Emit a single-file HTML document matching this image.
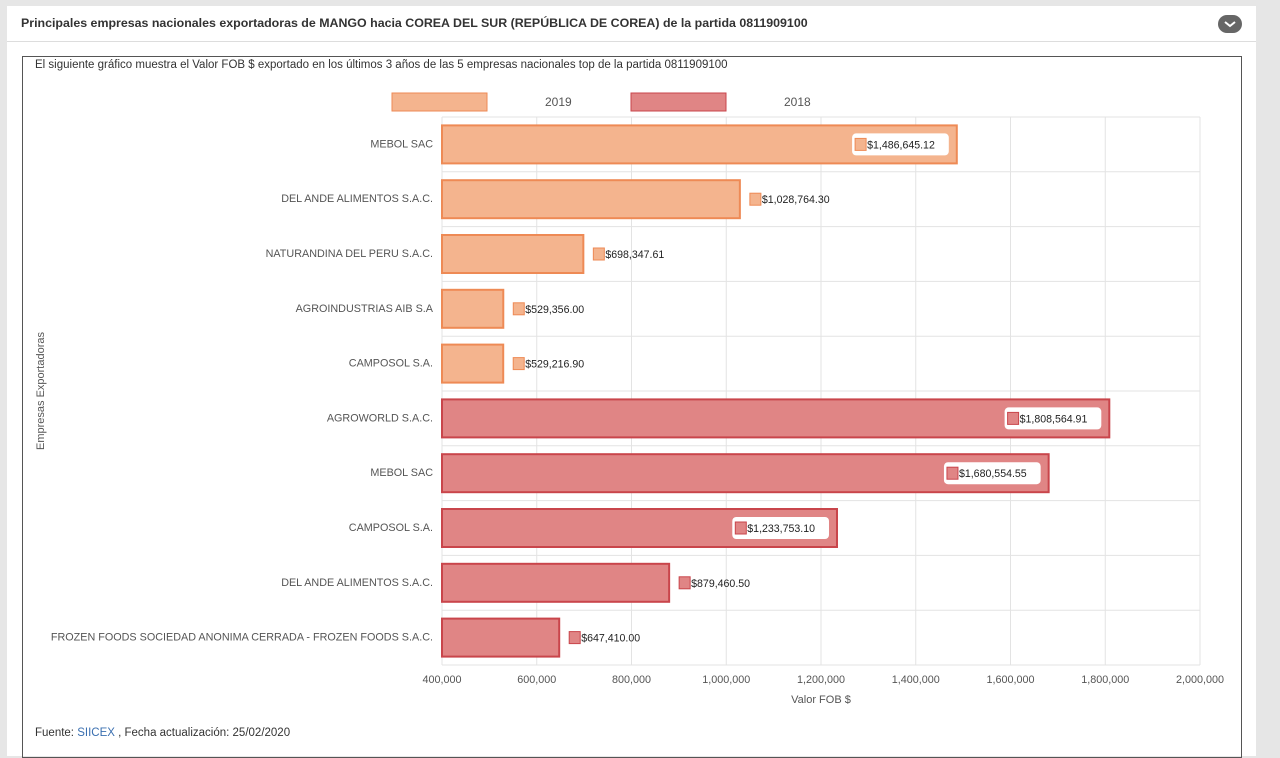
<!DOCTYPE html>
<html><head><meta charset="utf-8"><style>
body{margin:0;width:1280px;height:750px;background:#e6e6e6;font-family:"Liberation Sans",sans-serif;overflow:hidden;position:relative}
#panel{position:absolute;left:7px;top:6px;width:1249px;height:750px;background:#fff}
#title{position:absolute;left:21px;top:16px;font-size:12.4px;font-weight:bold;color:#333}
#toggle{position:absolute;left:1218px;top:15px;width:24px;height:18px;border-radius:9px;background:#666}
#divider{position:absolute;left:7px;top:41px;width:1249px;height:1px;background:#ddd}
#box{position:absolute;left:22px;top:56px;width:1218px;height:700px;border:1px solid #555}
#sub{position:absolute;left:35px;top:59px;font-size:11.5px;color:#333}
#foot{position:absolute;left:35px;top:727px;font-size:11.5px;color:#333}
#foot span{color:#3a6fb0}
svg{position:absolute;left:0;top:0}
</style></head><body>
<div id="panel"></div>
<div id="title">Principales empresas nacionales exportadoras de MANGO hacia COREA DEL SUR (REPÚBLICA DE COREA) de la partida 0811909100</div>
<div id="toggle"><svg width="24" height="18" style="position:static"><path d="M7 7 L12 11 L17 7" stroke="#fff" stroke-width="2" fill="none"/></svg></div>
<div id="divider"></div>
<div id="box"></div>
<div id="sub">El siguiente gráfico muestra el Valor FOB $ exportado en los últimos 3 años de las 5 empresas nacionales top de la partida 0811909100</div>
<div id="foot">Fuente: <span>SIICEX</span> , Fecha actualización: 25/02/2020</div>
<svg id="chart" width="1280" height="750"></svg>
<script>
const categories=["MEBOL SAC","DEL ANDE ALIMENTOS S.A.C.","NATURANDINA DEL PERU S.A.C.","AGROINDUSTRIAS AIB S.A","CAMPOSOL S.A.","AGROWORLD S.A.C.","MEBOL SAC","CAMPOSOL S.A.","DEL ANDE ALIMENTOS S.A.C.","FROZEN FOODS SOCIEDAD ANONIMA CERRADA - FROZEN FOODS S.A.C."];
const values=[1486645.12,1028764.30,698347.61,529356.00,529216.90,1808564.91,1680554.55,1233753.10,879460.50,647410.00];
const years=["2019","2019","2019","2019","2019","2018","2018","2018","2018","2018"];
const ticks=[400000,600000,800000,1000000,1200000,1400000,1600000,1800000,2000000];
const seriesNames=["2019","2018"];
const NS="http://www.w3.org/2000/svg",svg=document.getElementById('chart');
const X0=442,X1=1200,Y0=117,Y1=665,xmin=400000,xmax=2000000;
const x=v=>X0+(v-xmin)/(xmax-xmin)*(X1-X0);
const rh=(Y1-Y0)/categories.length;
const y=i=>Y0+i*rh;
const col={"2019":["#f4b48e","#ee8a55"],"2018":["#e08585","#c9454b"]};
function mk(t,a,txt){const e=document.createElementNS(NS,t);for(const k in a)e.setAttribute(k,a[k]);if(txt!=null)e.textContent=txt;svg.appendChild(e);return e;}
const fmt=v=>"$"+v.toLocaleString("en-US",{minimumFractionDigits:2,maximumFractionDigits:2});
for(let i=0;i<=categories.length;i++){const g=mk('line',{x1:X0,x2:X1,y1:y(i),y2:y(i),stroke:'#e3e3e3'});

}
ticks.forEach(t=>{const g=mk('line',{x1:x(t),x2:x(t),y1:Y0,y2:Y1,stroke:'#e3e3e3'});


const l=mk('text',{x:x(t),y:Y1+18,'font-size':10.8,fill:'#555','text-anchor':'middle'},t.toLocaleString("en-US"));

});
categories.forEach((c,i)=>{
const cy=y(i)+rh/2,c2=col[years[i]];
const lb=mk('text',{x:X0-9,y:cy+3,'font-size':10.8,fill:'#555','text-anchor':'end'},c);


const w=x(values[i])-X0;
const b=mk('rect',{x:X0,y:cy-19,width:w,height:38,fill:c2[0],stroke:c2[1],'stroke-width':2});


const s=fmt(values[i]);
if(w>350){const bw=s.length*5.9+20,bx=X0+w-8-bw;
const bg=mk('rect',{x:bx,y:cy-11,width:bw,height:22,rx:4,fill:'#fff'});


const sq=mk('rect',{x:bx+3,y:cy-6,width:11,height:12,fill:c2[0],stroke:c2[1]});


const t=mk('text',{x:bx+15,y:cy+4,'font-size':10.6,fill:'#222'},s);

}
else{const bx=X0+w+10;
const sq=mk('rect',{x:bx,y:cy-6,width:11,height:12,fill:c2[0],stroke:c2[1]});


const t=mk('text',{x:bx+12,y:cy+4,'font-size':10.6,fill:'#222'},s);

}
});
const lx=[392,631];
seriesNames.forEach((n,k)=>{const c2=col[n];
const r=mk('rect',{x:lx[k],y:93,width:95,height:18,fill:c2[0],stroke:c2[1]});


const t=mk('text',{x:lx[k]+153,y:106,'font-size':12,fill:'#555'},n);

});
const xt=mk('text',{x:821,y:703,'font-size':11,fill:'#555','text-anchor':'middle'},"Valor FOB $");


const yt=mk('text',{x:44,y:391,'font-size':11,fill:'#555','text-anchor':'middle',transform:'rotate(-90 44 391)'},"Empresas Exportadoras");


</script>
</body></html>
